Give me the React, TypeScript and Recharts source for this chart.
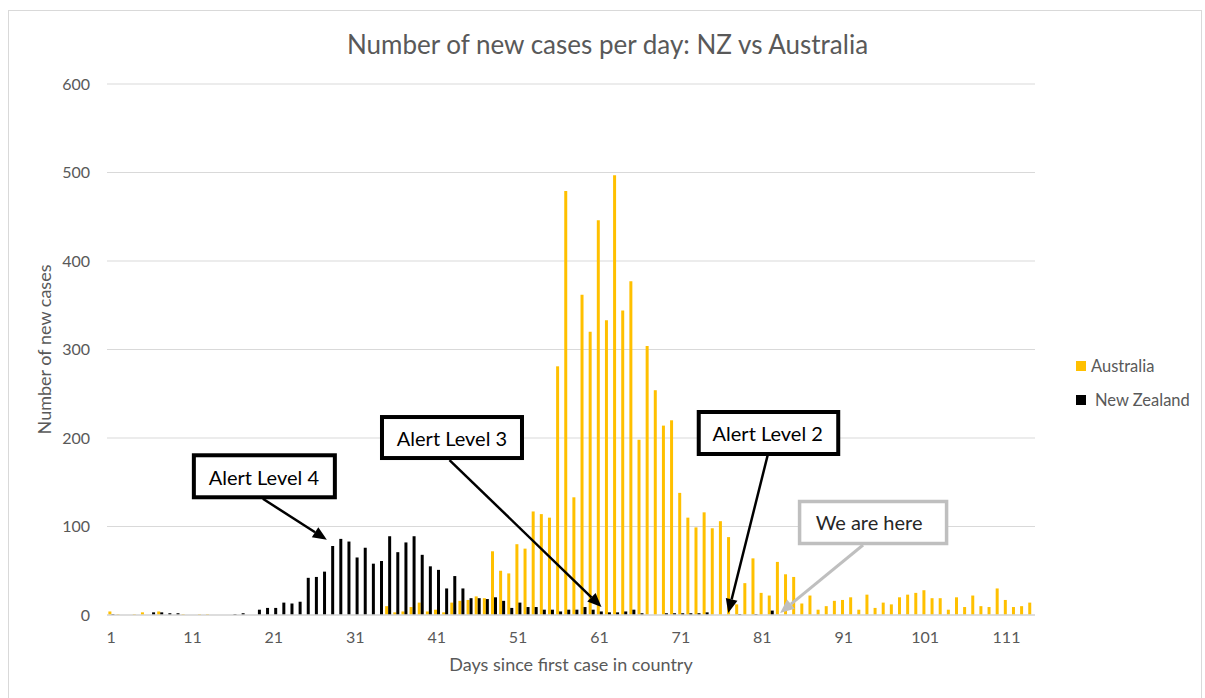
import React from 'react'
import { BarChart, Bar, XAxis, YAxis, CartesianGrid, Legend, ReferenceDot } from 'recharts'

// days since first case (categories)
const days: number[] = Array.from({ length: 114 }, (_, i) => i + 1)

const australia: number[] = [
  4, 1, 0, 1, 3, 0, 4, 0, 0, 1,
  0, 1, 1, 0, 0, 0, 0, 0, 0, 0,
  0, 0, 0, 0, 0, 0, 0, 0, 0, 0,
  0, 0, 0, 0, 10, 3, 4, 9, 14, 4,
  6, 3, 14, 16, 17, 21, 19, 72, 50, 47,
  80, 75, 117, 114, 110, 281, 479, 133, 362, 320,
  446, 333, 497, 344, 377, 198, 304, 254, 214, 220,
  138, 110, 99, 116, 98, 106, 88, 12, 36, 64,
  25, 22, 60, 46, 43, 13, 22, 6, 10, 16,
  17, 20, 6, 23, 8, 14, 12, 20, 23, 25,
  28, 19, 19, 6, 20, 9, 22, 10, 9, 30,
  17, 9, 10, 14,
]

const newZealand: number[] = [
  1, 0, 0, 0, 0, 3, 3, 2, 2, 0,
  0, 0, 0, 0, 0, 1, 2, 0, 6, 8,
  8, 14, 13, 15, 42, 43, 49, 78, 86, 83,
  65, 76, 58, 61, 89, 71, 82, 89, 68, 55,
  51, 30, 44, 30, 19, 19, 18, 20, 16, 8,
  14, 9, 9, 6, 6, 4, 6, 6, 9, 6,
  4, 3, 3, 4, 6, 2, 0, 0, 2, 2,
  2, 2, 2, 3, 0, 0, 0, 1, 0, 1,
  0, 5,
]

const yTicks = [0, 100, 200, 300, 400, 500, 600]

// callout anchors: [day, cases] the arrow points at
const calloutLabels = ['Alert Level 4', 'Alert Level 3', 'Alert Level 2', 'We are here']
const calloutDays = [28, 61, 77, 83]
const calloutValues = [85, 9, 0, 0]

const data = days.map((d, i) => ({
  day: d,
  australia: australia[i],
  newZealand: i < newZealand.length ? newZealand[i] : null,
}))

const FONT = 'Lato, "Open Sans", sans-serif'
const GREY = '#595959'

// pixel offsets of each callout relative to its anchor
const calloutLayout = [
  { tip: [-4, 0], start: [-68, -41], box: [-137, -84.5, 141, 42], text: [-67, -63], color: '#000', border: '#000', bw: 4, lw: 2.5 },
  { tip: [2, 0], start: [-150, -147], box: [-217.5, -190, 140, 41], text: [-147.5, -169], color: '#000', border: '#000', bw: 4, lw: 2.5 },
  { tip: [-1.5, -2], start: [38, -160], box: [-31, -203, 139.5, 42], text: [38, -182], color: '#000', border: '#000', bw: 4, lw: 2.5 },
  { tip: [1.5, -2], start: [84.5, -70], box: [21, -113.5, 147, 42], text: [90.5, -93], color: '#BFBFBF', border: '#BFBFBF', bw: 3.5, lw: 3 },
]

function Callout({ cx, cy, idx }: { cx: number; cy: number; idx: number }) {
  const c = calloutLayout[idx]
  const tx = cx + c.tip[0]
  const ty = cy + c.tip[1]
  const sx = cx + c.start[0]
  const sy = cy + c.start[1]
  const ang = Math.atan2(ty - sy, tx - sx)
  const hl = 14
  const hw = 6
  const bx = tx - hl * Math.cos(ang)
  const by = ty - hl * Math.sin(ang)
  const px = -Math.sin(ang) * hw
  const py = Math.cos(ang) * hw
  return (
    <g>
      <line x1={sx} y1={sy} x2={bx} y2={by} stroke={c.color} strokeWidth={c.lw} />
      <polygon points={`${tx},${ty} ${bx + px},${by + py} ${bx - px},${by - py}`} fill={c.color} />
      <rect
        x={cx + c.box[0]}
        y={cy + c.box[1]}
        width={c.box[2]}
        height={c.box[3]}
        fill="#fff"
        stroke={c.border}
        strokeWidth={c.bw}
      />
      <text
        x={cx + c.text[0]}
        y={cy + c.text[1]}
        textAnchor="middle"
        dominantBaseline="central"
        fontFamily={FONT}
        fontSize={20}
        fill={idx === 3 ? '#262626' : '#000'}
      >
        {calloutLabels[idx]}
      </text>
    </g>
  )
}

const legendItems = [
  { name: 'Australia', color: '#FFC000', gap: 5 },
  { name: 'New Zealand', color: '#000000', gap: 9 },
]

function renderLegend() {
  return (
    <div style={{ fontFamily: FONT, fontSize: 16.5, color: GREY }}>
      {legendItems.map((it) => (
        <div key={it.name} style={{ display: 'flex', alignItems: 'center', height: 34 }}>
          <span style={{ display: 'inline-block', width: 10, height: 10, background: it.color, marginRight: it.gap }} />
          <span>{it.name}</span>
        </div>
      ))}
    </div>
  )
}

export default function App() {
  return (
    <div style={{ position: 'absolute', left: 0, top: 0, width: 1205, height: 698, background: '#fff', overflow: 'hidden' }}>
      <div
        style={{
          position: 'absolute',
          left: 8,
          top: 10,
          width: 1194,
          height: 700,
          border: '1px solid #D9D9D9',
          boxSizing: 'border-box',
        }}
      />
      <div
        style={{
          position: 'absolute',
          left: 5,
          top: 29,
          width: 1205,
          lineHeight: '30px',
          textAlign: 'center',
          fontFamily: FONT,
          fontSize: 26,
          color: GREY,
        }}
      >
        Number of new cases per day: NZ vs Australia
      </div>
      <div style={{ position: 'absolute', left: 0, top: 0 }}>
        <BarChart
          width={1205}
          height={698}
          data={data}
          margin={{ top: 84, right: 170, bottom: 23, left: 8 }}
          barGap={0}
          barCategoryGap="17%"
        >
          <CartesianGrid vertical={false} stroke="#D9D9D9" />
          <XAxis
            dataKey="day"
            type="category"
            interval={9}
            height={60}
            tickLine={false}
            tickMargin={11}
            axisLine={{ stroke: '#D9D9D9', strokeWidth: 1.5 }}
            tick={{ fontSize: 16, fill: GREY, fontFamily: FONT }}
            label={{
              value: 'Days since first case in country',
              position: 'insideBottom',
              offset: 4,
              style: { fontSize: 18, fill: GREY, fontFamily: FONT },
            }}
          />
          <YAxis
            width={99}
            domain={[0, 600]}
            ticks={yTicks}
            axisLine={false}
            tickLine={false}
            tickMargin={11}
            tick={{ fontSize: 16, fill: GREY, fontFamily: FONT }}
            label={{
              value: 'Number of new cases',
              angle: -90,
              position: 'insideLeft',
              offset: 37,
              style: { fontSize: 18, fill: GREY, fontFamily: FONT, textAnchor: 'middle' },
            }}
          />
          <Legend
            layout="horizontal"
            verticalAlign="middle"
            align="center"
            content={renderLegend}
            wrapperStyle={{ left: 1076, top: 349, width: 129 }}
          />
          <Bar dataKey="australia" name="Australia" fill="#FFC000" isAnimationActive={false} />
          <Bar dataKey="newZealand" name="New Zealand" fill="#000000" isAnimationActive={false} />
          {calloutDays.map((d, i) => (
            <ReferenceDot
              key={calloutLabels[i]}
              x={d}
              y={calloutValues[i]}
              r={0}
              ifOverflow="visible"
              shape={(p: any) => <Callout cx={p.cx} cy={p.cy} idx={i} />}
            />
          ))}
        </BarChart>
      </div>
    </div>
  )
}
